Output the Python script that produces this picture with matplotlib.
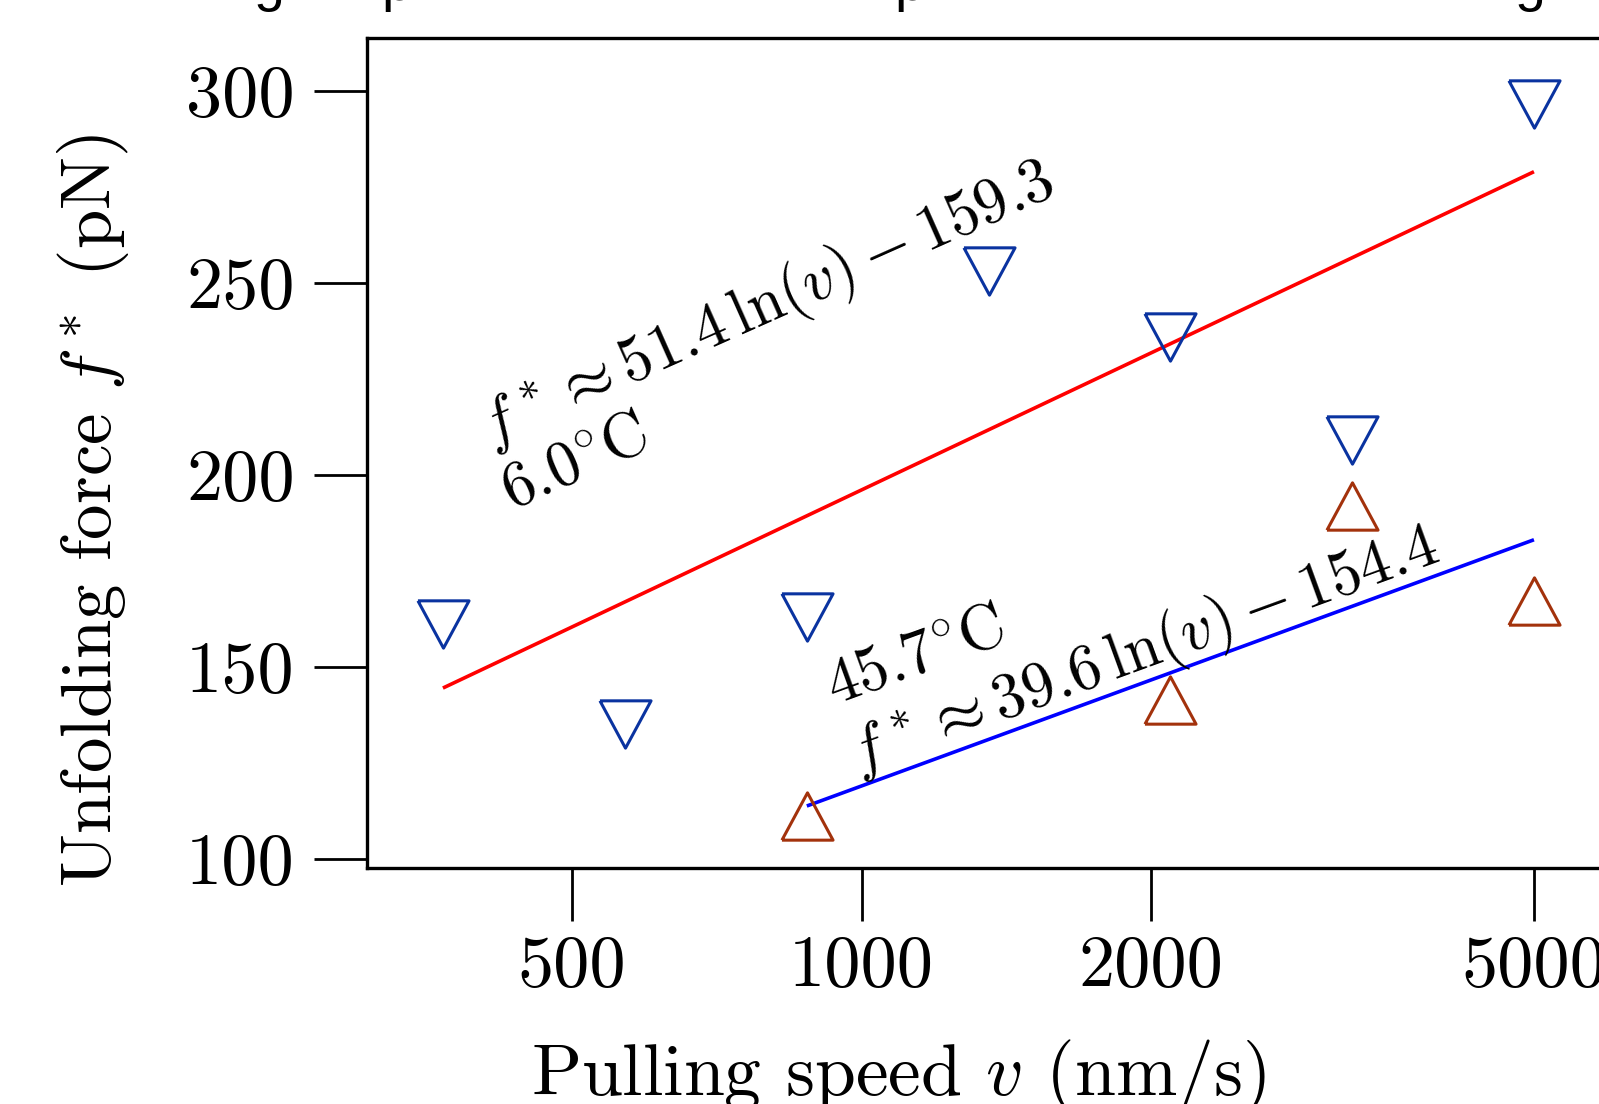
import matplotlib as mpl
mpl.use('Agg')
import matplotlib.pyplot as plt
from matplotlib.ticker import FixedLocator, FixedFormatter, NullLocator

plt.rcParams['font.family'] = ['cmr10']
plt.rcParams['mathtext.fontset'] = 'cm'
plt.rcParams['axes.unicode_minus'] = False

# data
speed_cold = [367, 567, 877, 1355, 2091, 3233, 5000]
force_cold = [161.2, 135.1, 163.0, 253.1, 235.9, 209.1, 296.6]
speed_hot = [877, 2091, 3233, 5000]
force_hot = [111.2, 141.4, 191.9, 167.2]

# fit lines (end points)
fit_cold_x = [367, 5000]
fit_cold_y = [144.5, 278.9]
fit_hot_x = [877, 5000]
fit_hot_y = [113.8, 183.1]

xticks = [500, 1000, 2000, 5000]
xticklabels = ['500', '1000', '2000', '5000']
yticks = [100, 150, 200, 250, 300]

blue_mk = '#0a33a0'
brown_mk = '#a3320c'

# marker shapes, width a little larger than height
h = 0.926
tri_down = [(-1, h), (1, h), (0, -h), (-1, h)]
tri_up = [(-1, -h), (1, -h), (0, h), (-1, -h)]

fig = plt.figure(figsize=(7.995, 5.52), dpi=200)
ax = fig.add_axes([367 / 1599, 1 - 868 / 1104, 0.8177, 830 / 1104])

ax.plot(fit_cold_x, fit_cold_y, color='#ff0000', lw=1.3, solid_capstyle='butt')
ax.plot(fit_hot_x, fit_hot_y, color='#0000ff', lw=1.3, solid_capstyle='butt')
ax.plot(speed_cold, force_cold, ls='none', marker=tri_down, ms=18.4,
        mfc='none', mec=blue_mk, mew=1.1)
ax.plot(speed_hot, force_hot, ls='none', marker=tri_up, ms=18.4,
        mfc='none', mec=brown_mk, mew=1.1)

ax.set_xscale('log')
ax.set_xlim(306, 7000)
ax.set_ylim(97.66, 313.7)

ax.xaxis.set_major_locator(FixedLocator(xticks))
ax.xaxis.set_major_formatter(FixedFormatter(xticklabels))
ax.xaxis.set_minor_locator(NullLocator())
ax.yaxis.set_major_locator(FixedLocator(yticks))
ax.yaxis.set_minor_locator(NullLocator())

ax.tick_params(axis='both', direction='out', length=19, width=1.0, labelsize=26)
ax.tick_params(axis='x', pad=5)
ax.tick_params(axis='y', pad=7)
for s in ['left', 'bottom', 'top']:
    ax.spines[s].set_linewidth(1.2)
ax.spines['right'].set_visible(False)

ax.set_xlabel(r'Pulling speed $v$ (nm/s)', fontsize=26.5, va='top')
ax.xaxis.set_label_coords(0.4063, -0.2048)
ax.set_ylabel(r'Unfolding force $f^*$ (pN)', fontsize=25.5)
ax.yaxis.set_label_coords(-0.1806, 0.431)

# fit annotations
kw = dict(fontsize=22.8, ha='left', va='baseline', rotation_mode='anchor')
ax.text(411, 207.3, r'$f^* \approx 51.4\,\ln(v) - 159.3$', rotation=24, **kw)
ax.text(433, 190.9, r'$6.0^{\circ}\mathrm{C}$', rotation=24, **kw)
ax.text(937, 140.1, r'$45.7^{\circ}\mathrm{C}$', rotation=20, **kw)
ax.text(990, 122.4, r'$f^* \approx 39.6\,\ln(v) - 154.4$', rotation=20, **kw)

# bits of the panel title above, clipped by the edge
for ch, xp in [('g', 269), ('p', 397), ('p', 910), ('g', 1530)]:
    fig.text(xp / 1599, 1.0, ch, family='Liberation Sans', fontsize=20,
             ha='center', va='baseline')

fig.savefig('out.png', dpi=200)
